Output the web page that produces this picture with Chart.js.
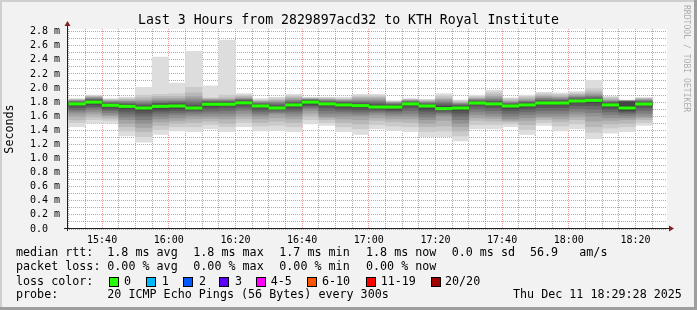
<!DOCTYPE html>
<html><head><meta charset="utf-8">
<script src="https://cdn.jsdelivr.net/npm/chart.js@4.4.1/dist/chart.umd.min.js"></script>
<style>
html,body{margin:0;padding:0;background:#f2f2f2;}
#wrap{position:relative;width:697px;height:310px;overflow:hidden;background:#f2f2f2;font-family:'DejaVu Sans Mono',monospace;color:#000;}
#c{position:absolute;left:0;top:0;}
.t{position:absolute;white-space:pre;font-size:11.7px;line-height:11.7px;}
.box{position:absolute;box-sizing:border-box;width:10px;height:10px;border:1px solid #000;}
#title{position:absolute;left:0;top:12.8px;width:697px;text-align:center;font-size:13.2px;line-height:13.2px;white-space:pre;}
#wm{position:absolute;left:683px;top:5px;font-size:8.1px;line-height:8.1px;writing-mode:vertical-rl;color:rgba(0,0,0,0.3);white-space:pre;}
.fr{position:absolute;}
</style></head>
<body>
<div id="wrap">
<canvas id="c" width="697" height="310"></canvas>
<div id="title">Last 3 Hours from 2829897acd32 to KTH Royal Institute</div>
<div id="wm">RRDTOOL / TOBI OETIKER</div>
<div id="legend"></div>
<div class="fr" style="left:0;top:0;width:697px;height:2px;background:#cfcfcf"></div>
<div class="fr" style="left:0;top:0;width:2px;height:310px;background:#cfcfcf"></div>
<div class="fr" style="left:0;top:307px;width:697px;height:3px;background:#9e9e9e"></div>
<div class="fr" style="left:694px;top:0;width:3px;height:310px;background:#9e9e9e"></div>
</div>
<script>
// ---- data ----
const graphStart = "15:29:28";
const graphEnd = "18:29:28";
const binStart = ["15:30","15:35","15:40","15:45","15:50","15:55","16:00","16:05","16:10","16:15",
  "16:20","16:25","16:30","16:35","16:40","16:45","16:50","16:55","17:00","17:05",
  "17:10","17:15","17:20","17:25","17:30","17:35","17:40","17:45","17:50","17:55",
  "18:00","18:05","18:10","18:15","18:20"];
// median RTT (ms) per 5-minute bin
const median = [1.775,1.80,1.755,1.74,1.716,1.74,1.745,1.716,1.77,1.77,
  1.79,1.745,1.716,1.76,1.80,1.775,1.76,1.75,1.73,1.73,
  1.775,1.745,1.708,1.716,1.787,1.775,1.745,1.76,1.787,1.787,
  1.816,1.825,1.76,1.716,1.773];
// packet loss per bin (pings lost out of 20)
const loss = [0,0,0,0,0,0,0,0,0,0,0,0,0,0,0,0,0,0,0,0,0,0,0,0,0,0,0,0,0,0,0,0,0,0,0];
// 20 sorted ping RTTs (ms) per bin
const pings = [
 [1.45,1.51,1.55,1.60,1.64,1.67,1.69,1.72,1.75,1.77,1.78,1.79,1.80,1.80,1.81,1.82,1.83,1.83,1.84,1.85],
 [1.50,1.55,1.59,1.63,1.66,1.69,1.72,1.74,1.77,1.79,1.81,1.82,1.83,1.84,1.85,1.86,1.87,1.88,1.89,1.90],
 [1.50,1.54,1.57,1.60,1.62,1.65,1.68,1.70,1.73,1.75,1.76,1.77,1.78,1.79,1.80,1.81,1.82,1.83,1.84,1.85],
 [1.32,1.39,1.45,1.50,1.55,1.59,1.63,1.67,1.71,1.73,1.75,1.76,1.77,1.78,1.80,1.81,1.82,1.84,1.85,1.87],
 [1.23,1.31,1.38,1.44,1.50,1.55,1.60,1.64,1.68,1.71,1.72,1.74,1.75,1.77,1.79,1.81,1.83,1.86,1.90,2.01],
 [1.34,1.41,1.47,1.52,1.56,1.60,1.64,1.67,1.70,1.73,1.75,1.76,1.78,1.79,1.81,1.83,1.85,1.88,1.91,2.44],
 [1.39,1.45,1.50,1.54,1.58,1.62,1.65,1.68,1.71,1.74,1.75,1.77,1.78,1.80,1.81,1.83,1.85,1.88,1.92,2.07],
 [1.38,1.45,1.51,1.56,1.60,1.63,1.66,1.68,1.70,1.71,1.72,1.74,1.76,1.79,1.82,1.85,1.88,1.93,2.01,2.52],
 [1.42,1.48,1.53,1.57,1.60,1.64,1.67,1.71,1.74,1.76,1.78,1.79,1.80,1.81,1.82,1.83,1.84,1.85,1.86,2.03],
 [1.38,1.45,1.50,1.56,1.60,1.64,1.68,1.72,1.75,1.76,1.78,1.79,1.80,1.81,1.82,1.83,1.84,1.86,1.90,2.68],
 [1.45,1.51,1.56,1.60,1.64,1.68,1.71,1.74,1.77,1.78,1.80,1.81,1.82,1.83,1.84,1.85,1.86,1.88,1.90,1.92],
 [1.39,1.46,1.51,1.56,1.60,1.63,1.66,1.69,1.72,1.74,1.75,1.76,1.77,1.78,1.79,1.80,1.81,1.82,1.83,1.85],
 [1.40,1.47,1.53,1.58,1.63,1.65,1.67,1.69,1.70,1.71,1.72,1.73,1.75,1.77,1.79,1.80,1.82,1.83,1.85,1.87],
 [1.38,1.45,1.51,1.56,1.60,1.64,1.67,1.70,1.73,1.75,1.77,1.78,1.79,1.80,1.82,1.83,1.85,1.87,1.89,1.91],
 [1.49,1.55,1.60,1.64,1.68,1.71,1.73,1.75,1.77,1.79,1.81,1.82,1.82,1.83,1.83,1.84,1.85,1.85,1.86,1.87],
 [1.47,1.51,1.55,1.58,1.60,1.64,1.68,1.72,1.75,1.77,1.78,1.79,1.80,1.81,1.82,1.83,1.84,1.85,1.86,1.87],
 [1.38,1.45,1.51,1.56,1.60,1.64,1.67,1.70,1.73,1.75,1.77,1.78,1.79,1.80,1.81,1.82,1.83,1.84,1.85,1.87],
 [1.34,1.42,1.49,1.55,1.60,1.63,1.66,1.69,1.72,1.74,1.76,1.77,1.78,1.80,1.81,1.83,1.85,1.87,1.89,1.91],
 [1.42,1.48,1.54,1.58,1.62,1.65,1.67,1.69,1.71,1.72,1.74,1.75,1.77,1.79,1.81,1.83,1.85,1.87,1.89,1.91],
 [1.40,1.46,1.52,1.56,1.60,1.63,1.66,1.68,1.70,1.72,1.74,1.75,1.76,1.77,1.78,1.79,1.80,1.80,1.81,1.82],
 [1.38,1.45,1.51,1.56,1.60,1.64,1.68,1.72,1.75,1.77,1.78,1.79,1.80,1.80,1.81,1.82,1.83,1.83,1.84,1.85],
 [1.31,1.38,1.45,1.50,1.55,1.59,1.63,1.67,1.70,1.74,1.75,1.76,1.77,1.78,1.79,1.80,1.81,1.82,1.83,1.84],
 [1.31,1.39,1.46,1.54,1.60,1.63,1.65,1.67,1.69,1.70,1.72,1.74,1.76,1.78,1.80,1.82,1.84,1.86,1.89,1.92],
 [1.25,1.32,1.39,1.45,1.50,1.55,1.60,1.64,1.68,1.71,1.72,1.74,1.75,1.76,1.77,1.78,1.79,1.80,1.82,1.83],
 [1.42,1.48,1.54,1.58,1.62,1.66,1.70,1.74,1.77,1.78,1.79,1.80,1.81,1.82,1.83,1.84,1.85,1.86,1.88,1.90],
 [1.42,1.48,1.53,1.57,1.60,1.64,1.68,1.72,1.75,1.77,1.78,1.79,1.81,1.82,1.84,1.86,1.88,1.91,1.94,1.97],
 [1.45,1.49,1.52,1.54,1.56,1.60,1.64,1.68,1.71,1.74,1.75,1.76,1.77,1.78,1.79,1.80,1.81,1.83,1.85,1.86],
 [1.34,1.41,1.48,1.54,1.58,1.62,1.66,1.70,1.73,1.75,1.77,1.78,1.79,1.80,1.81,1.82,1.84,1.86,1.88,1.90],
 [1.47,1.51,1.55,1.58,1.60,1.64,1.68,1.72,1.76,1.78,1.79,1.80,1.82,1.83,1.85,1.86,1.88,1.90,1.92,1.94],
 [1.39,1.46,1.52,1.56,1.60,1.64,1.68,1.72,1.76,1.78,1.79,1.80,1.82,1.83,1.84,1.86,1.87,1.89,1.91,1.93],
 [1.42,1.49,1.55,1.59,1.63,1.67,1.71,1.75,1.79,1.81,1.82,1.83,1.84,1.86,1.87,1.88,1.90,1.91,1.93,1.95],
 [1.28,1.37,1.45,1.53,1.60,1.65,1.70,1.75,1.79,1.82,1.83,1.84,1.85,1.87,1.88,1.90,1.92,1.95,1.99,2.11],
 [1.36,1.43,1.49,1.54,1.58,1.62,1.66,1.70,1.73,1.75,1.77,1.78,1.79,1.80,1.81,1.82,1.83,1.85,1.87,1.88],
 [1.38,1.45,1.50,1.55,1.58,1.61,1.64,1.66,1.68,1.69,1.74,1.80,1.81,1.81,1.81,1.82,1.82,1.82,1.82,1.83],
 [1.47,1.51,1.55,1.58,1.60,1.64,1.68,1.72,1.75,1.77,1.78,1.79,1.80,1.81,1.82,1.83,1.84,1.85,1.86,1.86]
];
const yMax = 2.837;            // ms, top of the plot
const yStep = 0.1;
const lossLabels = ["0","1","2","3","4-5","6-10","11-19","20/20"];
const lossColors = ["#26ff00","#00b8ff","#0059ff","#5e00ff","#ff00ff","#ff5500","#ff0000","#a00000"];
const smokeGreys = ["#dddddd","#cacaca","#b7b7b7","#a4a4a4","#919191","#7e7e7e","#6b6b6b","#585858","#454545","#323232"];

// ---- legend text (real text) ----
const legendRows = [
  {top:247.4, items:[[16,"median rtt:"],[107.3,"1.8 ms avg"],[193.3,"1.8 ms max"],[279.3,"1.7 ms min"],[366,"1.8 ms now"],[451.7,"0.0 ms sd"],[530,"56.9"],[579.3,"am/s"]]},
  {top:261.4, items:[[16,"packet loss:"],[107.3,"0.00 % avg"],[193.3,"0.00 % max"],[279.3,"0.00 % min"],[366,"0.00 % now"]]},
  {top:275.8, items:[[16,"loss color:"]]},
  {top:289.1, items:[[16,"probe:"],[107.3,"20 ICMP Echo Pings (56 Bytes) every 300s"],[513,"Thu Dec 11 18:29:28 2025"]]}
];
const boxX = [109,146,183,219.3,256,307.3,366,431];
const boxLabelX = [124,161.7,199,235,270.7,322,380.7,445];
const lg = document.getElementById('legend');
legendRows.forEach(r => r.items.forEach(([x,s]) => {
  const d = document.createElement('div'); d.className='t'; d.style.left=x+'px'; d.style.top=r.top+'px'; d.textContent=s; lg.appendChild(d);
}));
lossLabels.forEach((l,i) => {
  const b = document.createElement('div'); b.className='box'; b.style.left=boxX[i]+'px'; b.style.top='277px'; b.style.background=lossColors[i]; lg.appendChild(b);
  const d = document.createElement('div'); d.className='t'; d.style.left=boxLabelX[i]+'px'; d.style.top='275.8px'; d.textContent=l; lg.appendChild(d);
});

// ---- chart ----
const toMin = s => { const p = s.split(':').map(Number); return p[0]*60 + p[1] + (p[2]||0)/60; };
const pad2 = n => String(n).padStart(2,'0');
const fmt = v => pad2(Math.floor(v/60)) + ':' + pad2(Math.round(v%60));
const xMin = toMin(graphStart), xMax = toMin(graphEnd);
const binCenter = binStart.map(s => toMin(s) + 2.5);
const xTickValues = [];
for (let v = Math.ceil(xMin/5)*5; v <= xMax; v += 5) xTickValues.push(v);
const medHalf = 1.25 * yMax / 200;   // ~1.25 px in value units (plot is 200px tall)

const datasets = [];
datasets.push({
  label:'median',
  data: median.map((m,k) => ({x: binCenter[k], y:[m - medHalf, m + medHalf]})),
  backgroundColor: median.map((m,k) => lossColors[loss[k]]),
  order: 0
});
for (let j = 9; j >= 0; j--) {
  datasets.push({
    label: 'smoke' + j,
    data: pings.map((p,k) => ({x: binCenter[k], y:[p[j], p[19-j]]})),
    backgroundColor: smokeGreys[j],
    order: 20 - j
  });
}

const MAJOR = 'rgba(222,79,79,0.6)', MINOR = 'rgba(143,143,143,0.75)';
const FONT = "'DejaVu Sans Mono', monospace";
const tickVal = c => (c && c.tick ? c.tick.value : NaN);

const axesPlugin = {
  id: 'rrdAxes',
  beforeDraw(chart) {
    const {ctx, chartArea:a} = chart;
    ctx.save(); ctx.fillStyle = '#ffffff';
    ctx.fillRect(a.left, a.top, a.right - a.left, a.bottom - a.top);
    ctx.restore();
  },
  afterDraw(chart) {
    const {ctx, chartArea:a} = chart;
    ctx.save();
    ctx.strokeStyle = '#1f1f1f'; ctx.lineWidth = 1;
    ctx.beginPath();
    ctx.moveTo(a.left - 3, a.bottom - 0.5); ctx.lineTo(a.right + 3, a.bottom - 0.5);
    ctx.moveTo(a.left + 0.5, a.bottom + 2); ctx.lineTo(a.left + 0.5, a.top - 4);
    ctx.stroke();
    ctx.fillStyle = '#801f1f';
    ctx.beginPath();
    ctx.moveTo(a.left + 0.5, a.top - 8); ctx.lineTo(a.left - 2.5, a.top - 3); ctx.lineTo(a.left + 3.5, a.top - 3); ctx.closePath();
    ctx.fill();
    ctx.beginPath();
    ctx.moveTo(a.right + 7, a.bottom - 0.5); ctx.lineTo(a.right + 2, a.bottom - 3.5); ctx.lineTo(a.right + 2, a.bottom + 2.5); ctx.closePath();
    ctx.fill();
    ctx.restore();
  }
};

new Chart(document.getElementById('c'), {
  type: 'bar',
  data: { datasets },
  plugins: [axesPlugin],
  options: {
    responsive: false, animation: false, events: [],
    layout: { padding: { left: 0, top: 29, right: 30, bottom: 0 } },
    plugins: { legend: { display: false }, title: { display: false }, tooltip: { enabled: false } },
    datasets: { bar: { grouped: false, barPercentage: 1, categoryPercentage: 1, borderWidth: 0, inflateAmount: 0.3 } },
    scales: {
      x: {
        type: 'linear', min: xMin, max: xMax, z: 1, offset: false,
        afterFit(s) { s.height = 81; },
        afterBuildTicks(s) { s.ticks = xTickValues.map(v => ({ value: v })); },
        grid: { offset: false, drawTicks: false, lineWidth: 1, color: c => (Math.round(tickVal(c)) % 20 === 0 ? MAJOR : MINOR) },
        border: { display: false, dash: [1, 1] },
        ticks: { autoSkip: false, maxRotation: 0, padding: 5, color: '#000', font: { family: FONT, size: 10 },
          callback: v => (Math.round(v) % 20 === 0 ? fmt(v) : '') }
      },
      y: {
        min: 0, max: yMax, z: 1,
        afterFit(s) { s.width = 67; },
        grid: { drawTicks: false, lineWidth: 1, color: c => (Math.round(tickVal(c) * 10) % 2 === 0 ? MAJOR : MINOR) },
        border: { display: false, dash: [1, 1] },
        ticks: { stepSize: yStep, includeBounds: false, autoSkip: false, padding: 7, color: '#000', font: { family: FONT, size: 10 },
          callback: v => { const n = Math.round(v * 10); if (n % 2) return ''; return n === 0 ? '0.0  ' : (n / 10).toFixed(1) + ' m'; } },
        title: { display: true, text: 'Seconds', color: '#000', font: { family: FONT, size: 11.7 }, padding: { top: 3, bottom: 0 } }
      }
    }
  }
});
</script>
</body></html>
